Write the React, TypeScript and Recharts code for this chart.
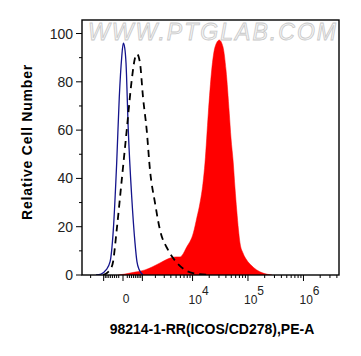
import React from "react"
import { Area, ComposedChart, Line, XAxis, YAxis } from "recharts"

// x values are in biexponential display units (decades from 0), y = % of max
const blueX = [-0.486, -0.396, -0.306, -0.234, -0.175, -0.114, -0.067, -0.023, 0.005, 0.031, 0.054, 0.095, 0.157, 0.216, 0.252, 0.294, 0.36]
const blueY = [0, 0.4, 2.1, 5.4, 18.6, 46.4, 73.7, 90.3, 96, 94, 87.8, 60, 32.3, 13.3, 5.4, 2.1, 0]

const isoX = [-0.36, -0.27, -0.234, -0.18, -0.114, -0.023, 0.067, 0.157, 0.216, 0.252, 0.306, 0.36, 0.427, 0.486, 0.577, 0.667, 0.811, 0.973, 1.117, 1.261, 1.568]
const isoY = [0, 1.2, 2.1, 5.4, 18.6, 39.3, 60, 80.7, 89.9, 91.5, 87.8, 73.7, 60, 43.5, 29.8, 18.6, 10.4, 5, 2.1, 0.8, 0]

const redX = [-0.09, 0.036, 0.216, 0.396, 0.523, 0.667, 0.847, 0.955, 1.027, 1.148, 1.267, 1.333, 1.387, 1.441, 1.477, 1.537, 1.598, 1.658, 1.735, 1.802, 1.856, 1.915, 1.946, 1.987, 2.018, 2.049, 2.081, 2.108, 2.162, 2.229, 2.306, 2.409, 2.523, 2.685]
const redY = [0, 0.4, 1.2, 2.1, 3.3, 5, 7, 7.5, 7.5, 11.6, 17.4, 24, 29.8, 38, 46.4, 67, 84.9, 94.4, 97.3, 94.4, 84.9, 67, 56.7, 46.4, 36, 26.9, 18.6, 13.3, 9.1, 6.2, 4.1, 2.1, 0.8, 0]

const yTicks = [0, 10, 20, 30, 40, 50, 60, 70, 80, 90, 100]
const yLabelled = [0, 20, 40, 60, 80, 100]

const xMajor = [-1000, 0, 1000, 10000, 100000, 1000000]
const xLabelValues = [0, 10000, 100000, 1000000]
const xLabelBase = ["0", "10", "10", "10"]
const xLabelExp = ["", "4", "5", "6"]

const biex = (v: number) => Math.asinh(v / 1120) / Math.LN10

const toRows = (xs: number[], ys: number[]) => xs.map((x, i) => ({ x, y: ys[i] }))
const blue = toRows(blueX, blueY)
const iso = toRows(isoX, isoY)
const red = toRows(redX, redY)

type TickMeta = { pos: number; major: boolean; base?: string; exp?: string }
const tickMeta: TickMeta[] = []
xMajor.forEach((v) => {
  const li = xLabelValues.indexOf(v)
  tickMeta.push({ pos: biex(v), major: true, base: li >= 0 ? xLabelBase[li] : undefined, exp: li >= 0 ? xLabelExp[li] : undefined })
})
;[100, 1000, 10000, 100000, 1000000].forEach((d) => {
  for (let k = 2; k <= 9; k++) {
    tickMeta.push({ pos: biex(k * d), major: false })
    if (d <= 1000) tickMeta.push({ pos: biex(-k * d), major: false })
  }
})
const X_MIN = -0.739
const X_MAX = 3.892
const xTicks = tickMeta.filter((t) => t.pos >= X_MIN && t.pos <= X_MAX)

const FONT = "'Liberation Sans', Arial, sans-serif"

function XTick(props: any) {
  const { x, y, payload } = props
  const m = xTicks.reduce((a, b) => (Math.abs(b.pos - payload.value) < Math.abs(a.pos - payload.value) ? b : a))
  return (
    <g>
      <line x1={x} x2={x} y1={y} y2={y + (m.major ? 6 : 3)} stroke="#000" strokeWidth={1} />
      {m.base === "0" && (
        <text x={x + 3} y={y + 28} textAnchor="middle" fontSize={12} fontFamily={FONT} fill="#222">0</text>
      )}
      {m.base === "10" && (
        <text x={x - 4} y={y + 29} textAnchor="start" fontSize={12} fontFamily={FONT} fill="#222">
          10<tspan dy={-9} fontSize={12}>{m.exp}</tspan>
        </text>
      )}
    </g>
  )
}

function YTick(props: any) {
  const { x, y, payload } = props
  const major = yLabelled.includes(payload.value)
  return (
    <g>
      <line x1={x - (major ? 6 : 3)} x2={x} y1={y} y2={y} stroke="#000" strokeWidth={1} />
      {major && (
        <text x={x - 9} y={y + 5} textAnchor="end" fontSize={14} fontFamily={FONT} fill="#222">{payload.value}</text>
      )}
    </g>
  )
}

export default function App() {
  return (
    <div style={{ position: "absolute", left: 0, top: 0, width: 361, height: 356, background: "#fff" }}>
      <ComposedChart width={361} height={356} margin={{ top: 20, right: 22, bottom: 0, left: 0 }}>
        <XAxis
          type="number"
          dataKey="x"
          domain={[X_MIN, X_MAX]}
          allowDataOverflow
          ticks={xTicks.map((t) => t.pos)}
          interval={0}
          tick={<XTick />}
          tickSize={0}
          tickMargin={0}
          tickLine={false}
          axisLine={false}
          height={81}
        />
        <YAxis
          type="number"
          domain={[0, 105.6]}
          allowDataOverflow
          ticks={yTicks}
          interval={0}
          tick={<YTick />}
          tickSize={0}
          tickMargin={0}
          tickLine={false}
          axisLine={false}
          width={82}
        />
        <Area data={red} dataKey="y" type="monotone" fill="#ff0000" fillOpacity={1} stroke="#ff0000" strokeWidth={0.5} isAnimationActive={false} />
        <Line data={blue} dataKey="y" type="monotone" stroke="#14148c" strokeWidth={1.3} dot={false} isAnimationActive={false} />
        <Line data={iso} dataKey="y" type="monotone" stroke="#000" strokeWidth={1.8} strokeDasharray="7 5" dot={false} isAnimationActive={false} />
      </ComposedChart>
      <svg width={361} height={356} style={{ position: "absolute", left: 0, top: 0, pointerEvents: "none" }}>
        <text
          x={88}
          y={40}
          fontSize={23}
          fontStyle="italic"
          fontFamily={FONT}
          textLength={248}
          fill="#f6f6f6"
          stroke="#c8c8c8"
          strokeWidth={0.8}
        >
          WWW.PTGLAB.COM
        </text>
        <rect x={82} y={20} width={257} height={255} fill="none" stroke="#000" strokeWidth={1.4} />
        <text x={212} y={334} textAnchor="middle" fontSize={14} fontWeight="bold" fontFamily={FONT} fill="#000">
          98214-1-RR(ICOS/CD278),PE-A
        </text>
        <text
          x={32}
          y={142}
          textAnchor="middle"
          fontSize={14}
          fontWeight="bold"
          fontFamily={FONT}
          letterSpacing={0.8}
          fill="#000"
          transform="rotate(-90 32 142)"
        >
          Relative Cell Number
        </text>
      </svg>
    </div>
  )
}
